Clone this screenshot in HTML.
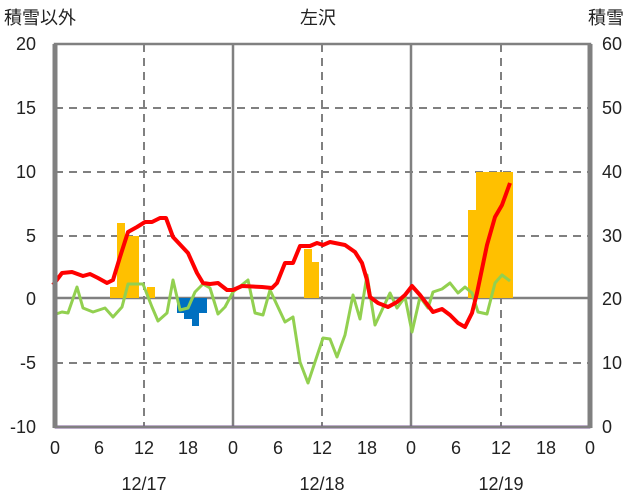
<!DOCTYPE html>
<html><head><meta charset="utf-8"><style>body{margin:0;background:#fff}svg{display:block}text{font-family:"Liberation Sans","Noto Sans CJK JP",sans-serif;font-size:18px;fill:#222}</style></head><body>
<svg width="636" height="501" viewBox="0 0 636 501">
<g stroke="#808080" stroke-width="2" stroke-dasharray="8,6" fill="none">
<line x1="55" y1="108" x2="590" y2="108"/><line x1="55" y1="172" x2="590" y2="172"/><line x1="55" y1="236" x2="590" y2="236"/><line x1="55" y1="363" x2="590" y2="363"/>
<line x1="144" y1="44" x2="144" y2="427"/><line x1="322" y1="44" x2="322" y2="427"/><line x1="501" y1="44" x2="501" y2="427"/>
</g>
<g stroke="#808080" stroke-width="2.5"><line x1="233" y1="44" x2="233" y2="427"/><line x1="411" y1="44" x2="411" y2="427"/><line x1="55" y1="298" x2="590" y2="298"/></g>
<g fill="#FFC000">
<rect x="110" y="287" width="7" height="11"/><rect x="117" y="223" width="8" height="75"/><rect x="125" y="236" width="14" height="62"/><rect x="147" y="287" width="8" height="11"/>
<rect x="304" y="249" width="8" height="49"/><rect x="312" y="262" width="7" height="36"/>
<rect x="468" y="210" width="8" height="88"/><rect x="476" y="172" width="37" height="126"/>
</g>
<g fill="#0070C0"><rect x="177" y="298" width="30" height="15"/><rect x="184" y="298" width="15" height="21"/><rect x="192" y="298" width="7" height="28"/></g>
<polyline fill="none" stroke="#92D050" stroke-width="3" stroke-linejoin="round" points="53,315 62,312 68,313 77,287 83,308 93,312 105,308 113,317 122,307 128,284 143,284 152,307 158,321 167,313 173,280 180,310 188,308 195,292 203,284 210,288 218,314 225,307 233,292 248,280 255,313 263,315 270,290 277,305 285,322 293,317 300,362 308,383 315,362 323,338 330,339 337,357 345,335 353,295 360,319 367,275 375,325 390,293 397,308 405,297 412,332 420,297 428,308 433,292 442,289 450,283 458,293 465,287 472,293 478,312 487,314 495,283 502,275 510,281"/>
<polyline fill="none" stroke="#FF0000" stroke-width="4" stroke-linejoin="round" points="53,285 62,273 72,272 83,276 90,274 98,278 107,283 113,280 120,257 128,232 137,227 145,222 152,222 160,218 166,218 173,237 188,253 197,273 203,283 210,284 218,283 227,290 233,290 242,286 262,287 272,288 277,283 285,263 293,263 300,246 310,246 317,243 323,245 330,242 345,245 355,252 362,263 367,280 370,297 378,303 388,307 397,302 405,295 412,286 420,295 433,312 442,309 450,315 458,323 465,327 472,313 477,293 487,245 495,217 502,205 510,183"/>
<line x1="55" y1="427" x2="590" y2="427" stroke="#7030A0" stroke-width="3"/>
<rect x="55" y="44" width="535" height="383" fill="none" stroke="#808080" stroke-width="2.5"/>
<line x1="55" y1="44" x2="55" y2="428" stroke="#808080" stroke-width="5"/>
<line x1="590" y1="44" x2="590" y2="428" stroke="#808080" stroke-width="5"/>
<g text-anchor="end"><text x="36" y="50">20</text><text x="36" y="114">15</text><text x="36" y="178">10</text><text x="36" y="242">5</text><text x="36" y="305">0</text><text x="36" y="369">-5</text><text x="36" y="433">-10</text></g>
<g text-anchor="start"><text x="602" y="50">60</text><text x="602" y="114">50</text><text x="602" y="178">40</text><text x="602" y="242">30</text><text x="602" y="305">20</text><text x="602" y="369">10</text><text x="602" y="433">0</text></g>
<g text-anchor="middle"><text x="55" y="454">0</text><text x="99" y="454">6</text><text x="144" y="454">12</text><text x="188" y="454">18</text><text x="233" y="454">0</text><text x="278" y="454">6</text><text x="322" y="454">12</text><text x="367" y="454">18</text><text x="411" y="454">0</text><text x="456" y="454">6</text><text x="501" y="454">12</text><text x="546" y="454">18</text><text x="590" y="454">0</text>
<text x="144" y="490">12/17</text><text x="322" y="490">12/18</text><text x="501" y="490">12/19</text>
<text x="318" y="24">左沢</text></g>
<text x="4" y="24">積雪以外</text><text x="588" y="24">積雪</text>
</svg></body></html>
